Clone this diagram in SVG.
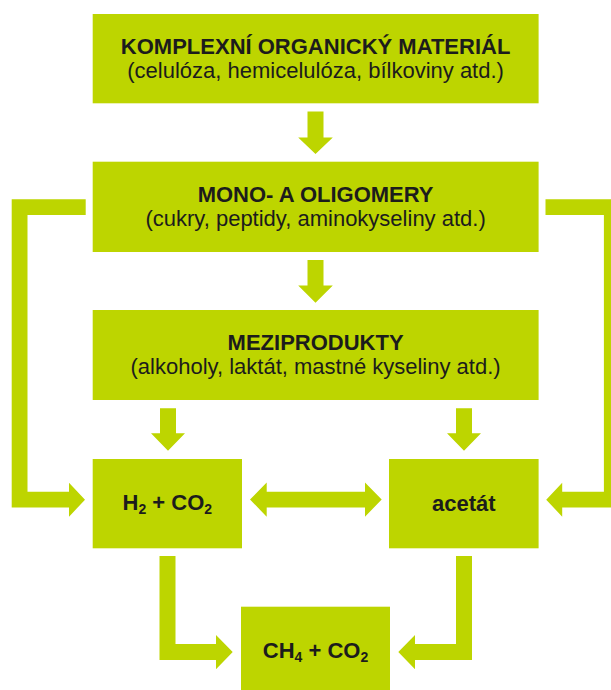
<svg xmlns="http://www.w3.org/2000/svg" width="611" height="690" viewBox="0 0 611 690">
  <style>
    .box { fill: #bdd500; }
    .conn { fill: #bdd500; }
    text { font-family: "Liberation Sans", Arial, sans-serif; font-size: 22px; fill: #1c1c1c; text-anchor: middle; }
    .b { font-weight: bold; }
  </style>
  <rect width="611" height="690" fill="#ffffff"/>
  <g id="connectors">
    <path class="conn" d="M307.5,111.5 H323.5 V137.5 H332.8 L315.5,154 L298.2,137.5 H307.5 Z"/>
    <path class="conn" d="M307.5,260 H323.5 V285.5 H332.8 L315.5,302.7 L298.2,285.5 H307.5 Z"/>
    <path class="conn" d="M160,408.3 H176 V433.3 H185 L168,450.7 L151,433.3 H160 Z"/>
    <path class="conn" d="M456,408.3 H472 V433.3 H481 L464,450.7 L447,433.3 H456 Z"/>
    <path class="conn" d="M159.5,556 H175.5 V644 H216 V635 L232.7,652 L216,669.3 V660 H159.5 Z"/>
    <path class="conn" d="M456,556 H472 V660 H415 V669.3 L398.3,652 L415,635 V644 H456 Z"/>
    <path class="conn" d="M85.7,199.3 V215 H27.5 V491.7 H69 V482.7 L85,499.7 L69,516.7 V507.5 H11.7 V199.3 Z"/>
    <path class="conn" d="M545.5,199.3 V215 H603.9 V491.7 H562.2 V482.7 L546.2,499.7 L562.2,516.7 V507.5 H619.5 V199.3 Z"/>
    <path class="conn" d="M250,499.5 L266.7,482.5 V491.7 H365 V482.5 L381.7,499.5 L365,516.7 V507.5 H266.7 V516.7 Z"/>
  </g>
  <g id="komplexni">
    <rect class="box" x="92.7" y="14" width="445.9" height="89.3"/>
    <text class="b" x="315.6" y="54">KOMPLEXNÍ ORGANICKÝ MATERIÁL</text>
    <text x="315.6" y="78">(celulóza, hemicelulóza, bílkoviny atd.)</text>
  </g>
  <g id="mono">
    <rect class="box" x="92.7" y="161.7" width="445.9" height="90.3"/>
    <text class="b" x="315.6" y="201.7">MONO- A OLIGOMERY</text>
    <text x="315.6" y="225.7">(cukry, peptidy, aminokyseliny atd.)</text>
  </g>
  <g id="meziprodukty">
    <rect class="box" x="92.7" y="310" width="445.9" height="90"/>
    <text class="b" x="315.6" y="350">MEZIPRODUKTY</text>
    <text x="315.6" y="374">(alkoholy, laktát, mastné kyseliny atd.)</text>
  </g>
  <g id="h2co2">
    <rect class="box" x="92.7" y="459" width="149.3" height="89.3"/>
    <text class="b" x="167.3" y="509.5">H<tspan font-size="14" dy="4">2</tspan><tspan dy="-4"> + CO</tspan><tspan font-size="14" dy="4">2</tspan></text>
  </g>
  <g id="acetat">
    <rect class="box" x="389" y="459" width="149.6" height="89.3"/>
    <text class="b" x="463.8" y="510.5">acetát</text>
  </g>
  <g id="ch4co2">
    <rect class="box" x="241" y="606.7" width="149" height="90"/>
    <text class="b" x="315.5" y="658.3">CH<tspan font-size="14" dy="4">4</tspan><tspan dy="-4"> + CO</tspan><tspan font-size="14" dy="4">2</tspan></text>
  </g>
</svg>
